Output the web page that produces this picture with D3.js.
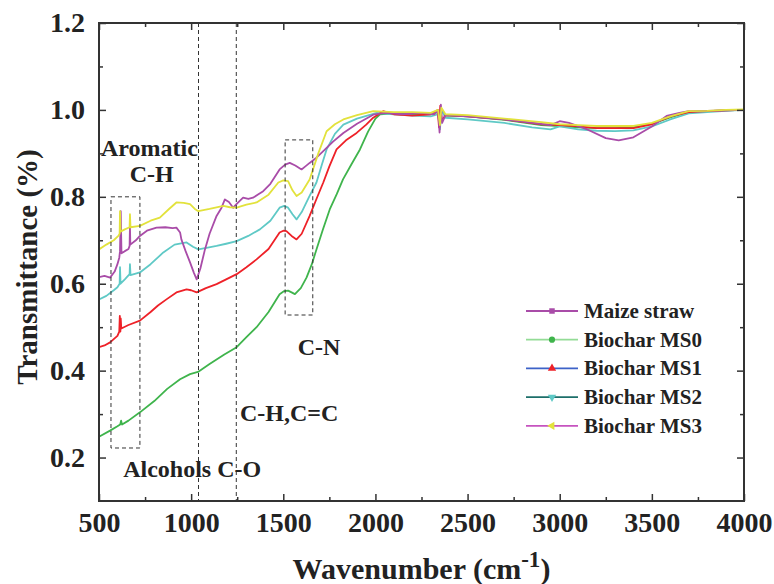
<!DOCTYPE html>
<html>
<head>
<meta charset="utf-8">
<script src="https://cdn.jsdelivr.net/npm/d3@7"></script>
<style>
  body { margin: 0; background: #fff; }
  svg { display: block; font-family: "Liberation Serif", "Times New Roman", serif; font-weight: bold; }
</style>
</head>
<body>
<svg class="chart-svg" width="774" height="584"></svg>
<script>
// FTIR spectra, [wavenumber, transmittance]
const maizeStraw = [[500,0.615],[530,0.618],[560,0.614],[585,0.628],[600,0.645],[610,0.66],[614,0.675],[618,0.767],[622,0.67],[640,0.675],[660,0.68],[666,0.687],[668,0.733],[670,0.69],[700,0.70],[722,0.71],[760,0.722],[812,0.729],[860,0.73],[900,0.728],[920,0.729],[940,0.718],[947,0.702],[970,0.675],[994,0.649],[1015,0.625],[1030,0.610],[1050,0.635],[1075,0.679],[1100,0.715],[1138,0.756],[1165,0.775],[1183,0.794],[1205,0.788],[1228,0.775],[1250,0.785],[1282,0.798],[1310,0.795],[1336,0.798],[1365,0.806],[1391,0.813],[1430,0.83],[1480,0.863],[1510,0.874],[1535,0.878],[1565,0.872],[1599,0.863],[1620,0.87],[1643,0.878],[1680,0.89],[1717,0.905],[1770,0.927],[1826,0.947],[1900,0.968],[1988,0.989],[2050,0.993],[2150,0.99],[2250,0.993],[2320,0.99],[2340,1.0],[2348,0.948],[2355,1.012],[2362,0.97],[2380,0.988],[2500,0.985],[2700,0.978],[2850,0.97],[2950,0.965],[3000,0.974],[3050,0.97],[3150,0.955],[3250,0.935],[3320,0.930],[3400,0.937],[3500,0.962],[3580,0.986],[3650,0.993],[3700,0.997],[3800,0.998],[3900,0.999],[4000,1.0]];
const biocharMS0 = [[500,0.248],[560,0.262],[600,0.272],[615,0.276],[620,0.285],[625,0.276],[660,0.285],[722,0.304],[800,0.33],[870,0.358],[940,0.38],[994,0.392],[1037,0.397],[1100,0.415],[1180,0.437],[1247,0.454],[1300,0.477],[1355,0.50],[1420,0.535],[1480,0.576],[1505,0.583],[1526,0.584],[1545,0.58],[1563,0.576],[1595,0.59],[1626,0.614],[1655,0.645],[1680,0.679],[1715,0.725],[1752,0.771],[1790,0.806],[1824,0.84],[1870,0.875],[1916,0.909],[1960,0.95],[2000,0.98],[2025,0.99],[2100,0.992],[2200,0.99],[2300,0.99],[2340,0.995],[2350,0.96],[2358,1.0],[2380,0.987],[2500,0.985],[2700,0.977],[2900,0.965],[3000,0.963],[3100,0.96],[3200,0.958],[3300,0.958],[3400,0.96],[3500,0.968],[3600,0.983],[3700,0.995],[3800,0.997],[3900,0.999],[4000,1.0]];
const biocharMS1 = [[500,0.454],[530,0.458],[560,0.465],[600,0.48],[610,0.49],[613,0.526],[616,0.49],[618,0.52],[621,0.497],[660,0.505],[722,0.515],[780,0.535],[820,0.55],[866,0.564],[920,0.58],[975,0.587],[1000,0.585],[1030,0.580],[1080,0.59],[1138,0.599],[1190,0.61],[1247,0.622],[1300,0.638],[1355,0.656],[1420,0.68],[1480,0.718],[1500,0.722],[1517,0.721],[1545,0.71],[1572,0.702],[1600,0.715],[1643,0.756],[1680,0.795],[1717,0.833],[1750,0.87],[1789,0.909],[1840,0.93],[1898,0.947],[1950,0.966],[1988,0.982],[2042,0.997],[2100,0.99],[2200,0.987],[2300,0.99],[2338,1.0],[2345,0.96],[2352,1.01],[2360,0.975],[2380,0.988],[2500,0.985],[2700,0.978],[2900,0.967],[3000,0.965],[3100,0.962],[3200,0.958],[3300,0.958],[3400,0.958],[3500,0.967],[3600,0.985],[3700,0.995],[3800,0.997],[3900,0.999],[4000,1.0]];
const biocharMS2 = [[500,0.564],[540,0.572],[580,0.585],[600,0.592],[612,0.6],[614,0.638],[617,0.6],[640,0.61],[666,0.622],[668,0.645],[671,0.62],[722,0.626],[780,0.645],[849,0.672],[910,0.69],[975,0.695],[1010,0.685],[1039,0.679],[1090,0.683],[1138,0.687],[1190,0.692],[1247,0.698],[1310,0.71],[1373,0.725],[1430,0.745],[1480,0.775],[1505,0.779],[1526,0.775],[1550,0.76],[1572,0.748],[1600,0.765],[1640,0.8],[1680,0.833],[1710,0.875],[1735,0.909],[1780,0.945],[1826,0.966],[1900,0.98],[2007,0.993],[2100,0.99],[2200,0.987],[2300,0.985],[2340,0.99],[2350,0.955],[2358,1.0],[2380,0.982],[2500,0.978],[2700,0.97],[2850,0.96],[2950,0.955],[3000,0.962],[3100,0.955],[3200,0.952],[3300,0.951],[3400,0.953],[3500,0.962],[3600,0.978],[3700,0.992],[3800,0.995],[3900,0.998],[4000,1.0]];
const biocharMS3 = [[500,0.679],[540,0.69],[580,0.7],[605,0.71],[612,0.715],[614,0.767],[617,0.72],[640,0.725],[666,0.73],[668,0.76],[671,0.73],[722,0.733],[780,0.745],[830,0.752],[880,0.772],[920,0.787],[960,0.786],[994,0.783],[1020,0.772],[1039,0.767],[1100,0.772],[1175,0.779],[1210,0.776],[1247,0.775],[1300,0.782],[1355,0.787],[1420,0.805],[1473,0.833],[1500,0.838],[1526,0.836],[1550,0.815],[1572,0.802],[1600,0.81],[1643,0.84],[1690,0.9],[1735,0.951],[1780,0.967],[1826,0.978],[1900,0.988],[1988,0.997],[2100,0.995],[2200,0.995],[2300,0.993],[2340,1.0],[2350,0.965],[2358,1.005],[2380,0.99],[2500,0.988],[2700,0.98],[2900,0.972],[3000,0.967],[3100,0.965],[3200,0.963],[3300,0.963],[3400,0.963],[3500,0.97],[3600,0.985],[3700,0.997],[3800,0.998],[3900,1.0],[4000,1.001]];

const seriesNames = ["Maize straw", "Biochar MS0", "Biochar MS1", "Biochar MS2", "Biochar MS3"];
const xTicks = [500, 1000, 1500, 2000, 2500, 3000, 3500, 4000];
const xMinorTicks = [750, 1250, 1750, 2250, 2750, 3250, 3750];
const yTicks = [0.2, 0.4, 0.6, 0.8, 1.0, 1.2];
const yMinorTicks = [0.3, 0.5, 0.7, 0.9, 1.1];
const bandLines = [1040, 1245];                       // vertical dashed guides
const bandBoxes = [[565, 722, 0.222, 0.80], [1510, 1660, 0.528, 0.931]];
const bandLabels = [
  ["Aromatic", 511, 0.895, "start"], ["C-H", 786, 0.834, "middle"],
  ["Alcohols C-O", 631, 0.155, "start"], ["C-H,C=C", 1265, 0.285, "start"],
  ["C-N", 1694, 0.437, "middle"]
];

const svg = d3.select(".chart-svg");
const margin = {top: 23, right: 30, bottom: 83, left: 99};
const W = 774, H = 584;
const x = d3.scaleLinear().domain([500, 4000]).range([margin.left, W - margin.right]);
const y = d3.scaleLinear().domain([0.1, 1.2]).range([H - margin.bottom, margin.top]);

const lineColors = {
  "Maize straw": "#a94ca8", "Biochar MS0": "#3fb44c", "Biochar MS1": "#ee2128",
  "Biochar MS2": "#5fc9c6", "Biochar MS3": "#e2e23c"
};
const data = {
  "Maize straw": maizeStraw, "Biochar MS0": biocharMS0, "Biochar MS1": biocharMS1,
  "Biochar MS2": biocharMS2, "Biochar MS3": biocharMS3
};

const line = d3.line().x(d => x(d[0])).y(d => y(d[1]));

svg.append("clipPath").attr("id", "clip").append("rect")
  .attr("x", margin.left).attr("y", margin.top)
  .attr("width", W - margin.left - margin.right).attr("height", H - margin.top - margin.bottom);

const plot = svg.append("g").attr("clip-path", "url(#clip)");
["Biochar MS0", "Biochar MS2", "Biochar MS1", "Maize straw", "Biochar MS3"].forEach(k => {
  plot.append("path").datum(data[k])
    .attr("fill", "none").attr("stroke", lineColors[k])
    .attr("stroke-width", 1.8).attr("stroke-linejoin", "round")
    .attr("d", line);
});

// dashed guides
const guides = svg.append("g").attr("fill", "none").attr("stroke", "#333")
  .attr("stroke-width", 1).attr("stroke-dasharray", "4,3");
bandLines.forEach(v => guides.append("line")
  .attr("x1", x(v)).attr("x2", x(v)).attr("y1", y(1.2)).attr("y2", y(0.1)));
bandBoxes.forEach(b => guides.append("rect")
  .attr("x", x(b[0])).attr("y", y(b[3]))
  .attr("width", x(b[1]) - x(b[0])).attr("height", y(b[2]) - y(b[3])));

svg.append("g").selectAll("text").data(bandLabels).join("text")
  .attr("x", d => x(d[1])).attr("y", d => y(d[2]))
  .attr("text-anchor", d => d[3])
  .attr("font-size", 24).attr("fill", "#222")
  .text(d => d[0]);

// axes (ticks inside, mirrored on top/right)
const axisColor = "#333";
function styleAxis(g) {
  g.select(".domain").remove();
  g.selectAll(".tick line").attr("stroke", axisColor).attr("stroke-width", 1.5);
  g.selectAll(".tick text").attr("fill", "#222").attr("font-size", 28)
    .attr("font-family", "Liberation Serif, Times New Roman, serif").attr("font-weight", "bold");
}
svg.append("g").attr("transform", `translate(0,${y(0.1)})`)
  .call(d3.axisBottom(x).tickValues(xTicks).tickSizeInner(-7).tickSizeOuter(0).tickPadding(11).tickFormat(d3.format("d")))
  .call(styleAxis);
svg.append("g").attr("transform", `translate(0,${y(0.1)})`)
  .call(d3.axisBottom(x).tickValues(xMinorTicks).tickSizeInner(-4).tickSizeOuter(0).tickFormat(""))
  .call(styleAxis);
svg.append("g").attr("transform", `translate(0,${y(1.2)})`)
  .call(d3.axisTop(x).tickValues(xTicks).tickSizeInner(-7).tickSizeOuter(0).tickFormat(""))
  .call(styleAxis);
svg.append("g").attr("transform", `translate(0,${y(1.2)})`)
  .call(d3.axisTop(x).tickValues(xMinorTicks).tickSizeInner(-4).tickSizeOuter(0).tickFormat(""))
  .call(styleAxis);
svg.append("g").attr("transform", `translate(${x(500)},0)`)
  .call(d3.axisLeft(y).tickValues(yTicks).tickSizeInner(-7).tickSizeOuter(0).tickPadding(14).tickFormat(d3.format(".1f")))
  .call(styleAxis);
svg.append("g").attr("transform", `translate(${x(500)},0)`)
  .call(d3.axisLeft(y).tickValues(yMinorTicks).tickSizeInner(-4).tickSizeOuter(0).tickFormat(""))
  .call(styleAxis);
svg.append("g").attr("transform", `translate(${x(4000)},0)`)
  .call(d3.axisRight(y).tickValues(yTicks).tickSizeInner(-7).tickSizeOuter(0).tickFormat(""))
  .call(styleAxis);
svg.append("g").attr("transform", `translate(${x(4000)},0)`)
  .call(d3.axisRight(y).tickValues(yMinorTicks).tickSizeInner(-4).tickSizeOuter(0).tickFormat(""))
  .call(styleAxis);

svg.append("rect")
  .attr("x", x(500)).attr("y", y(1.2))
  .attr("width", x(4000) - x(500)).attr("height", y(0.1) - y(1.2))
  .attr("fill", "none").attr("stroke", axisColor).attr("stroke-width", 2);

// axis titles
svg.append("text")
  .attr("transform", `translate(37,${(y(0.1) + y(1.2)) / 2 + 5}) rotate(-90)`)
  .attr("text-anchor", "middle").attr("font-size", 29).attr("fill", "#222")
  .text("Transmittance (%)");
const xt = svg.append("text")
  .attr("x", (x(500) + x(4000)) / 2).attr("y", 579)
  .attr("text-anchor", "middle").attr("font-size", 30).attr("fill", "#222");
xt.append("tspan").text("Wavenumber (cm");
xt.append("tspan").attr("dy", -12).attr("font-size", 23).text("-1");
xt.append("tspan").attr("dy", 12).text(")");

// legend
const legendStyle = {
  "Maize straw": {line: "#a94ca8", mark: "#a94ca8", shape: d3.symbolSquare, rot: 0},
  "Biochar MS0": {line: "#93dc96", mark: "#3fb44c", shape: d3.symbolCircle, rot: 0},
  "Biochar MS1": {line: "#3d62c8", mark: "#ee2128", shape: d3.symbolTriangle, rot: 0},
  "Biochar MS2": {line: "#1d6f6a", mark: "#5fc9c6", shape: d3.symbolTriangle, rot: 180},
  "Biochar MS3": {line: "#c653bf", mark: "#e2e23c", shape: d3.symbolTriangle, rot: -90}
};
const legend = svg.append("g");
const rows = legend.selectAll("g").data(seriesNames).join("g")
  .attr("transform", (d, i) => `translate(526,${311 + i * 28.7})`);
rows.append("line").attr("x1", 0).attr("x2", 52)
  .attr("stroke", d => legendStyle[d].line).attr("stroke-width", 1.8);
rows.append("path")
  .attr("d", d => d3.symbol(legendStyle[d].shape, 30)())
  .attr("transform", d => `translate(26,0) rotate(${legendStyle[d].rot})`)
  .attr("fill", d => legendStyle[d].mark);
rows.append("text").attr("x", 58).attr("y", 7)
  .attr("font-size", 21).attr("fill", "#222").text(d => d);
</script>
</body>
</html>
